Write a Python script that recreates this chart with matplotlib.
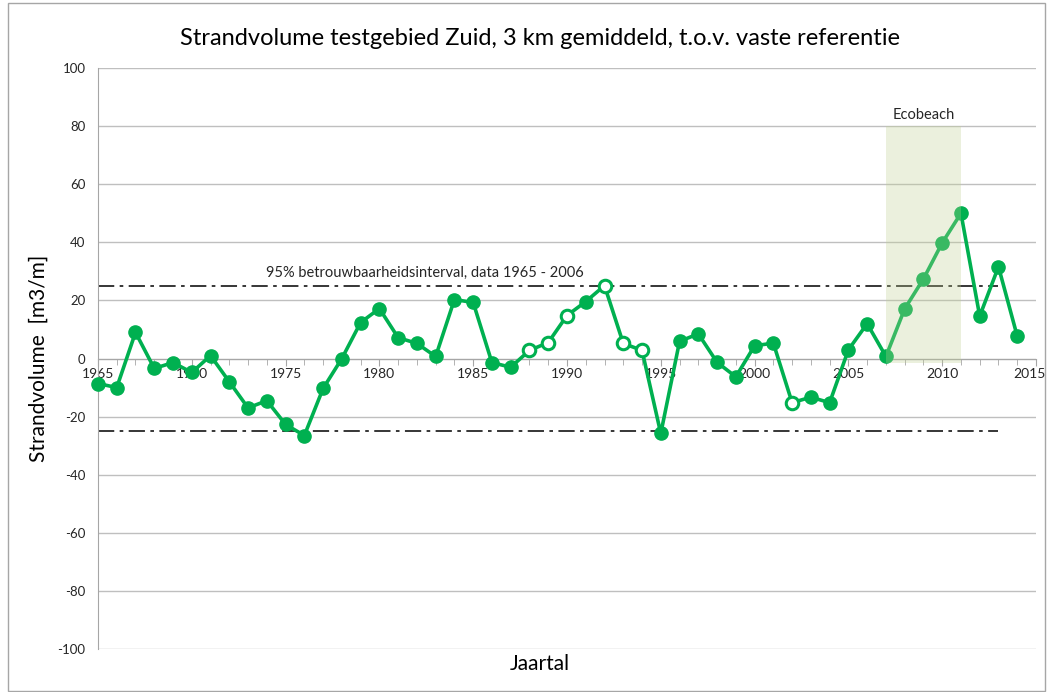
import matplotlib
matplotlib.use("Agg")
import matplotlib.pyplot as plt
import matplotlib.transforms as mtrans
from matplotlib.patches import Rectangle

plt.rcParams['font.family'] = ['Lato', 'DejaVu Sans']
plt.rcParams['axes.unicode_minus'] = False

years = list(range(1965, 2015))
volume = [-8.6, -10.0, 9.0, -3.4, -1.4, -4.8, 1.0, -8.0, -17.0, -14.5,
          -22.7, -26.5, -10.3, 0.0, 12.4, 17.2, 7.2, 5.2, 0.7, 20.3,
          19.3, -1.4, -3.0, 2.8, 5.5, 14.8, 19.6, 25.1, 5.2, 2.8,
          -25.8, 5.9, 8.5, -1.3, -6.3, 4.4, 5.3, -15.2, -13.3, -15.2,
          3.0, 12.0, 0.7, 17.1, 27.4, 39.8, 50.0, 14.6, 31.6, 7.7]
open_years = [1988, 1989, 1990, 1992, 1993, 1994, 2002]
ci_upper = 25
ci_lower = -25
ci_start, ci_end = 1965, 2013
eco_start, eco_end = 2007, 2011
eco_top = 80

green = '#00B050'

fig = plt.figure(figsize=(10.49, 6.92), dpi=100)
ax = fig.add_axes([0.0934, 0.0621, 0.8942, 0.8396])
ax.set_xlim(1965, 2015)
ax.set_ylim(-100, 100)

for v in range(-100, 101, 20):
    ax.axhline(v, color='#BFBFBF', lw=1.0, zorder=0)

ax.plot(years, volume, color=green, lw=2.6, zorder=3, clip_on=False)
filled_x = [y for y in years if y not in open_years]
filled_y = [v for y, v in zip(years, volume) if y not in open_years]
open_x = [y for y in years if y in open_years]
open_y = [v for y, v in zip(years, volume) if y in open_years]
ax.plot(filled_x, filled_y, 'o', color=green, ms=9.5, zorder=4, clip_on=False)
ax.plot(open_x, open_y, 'o', mfc='white', mec=green, mew=2.2, ms=9.0, zorder=4, clip_on=False)

for lvl in (ci_upper, ci_lower):
    ax.plot([ci_start, ci_end], [lvl, lvl], color='#262626', lw=1.3,
            dashes=(9, 3, 2, 3), zorder=2)

ax.add_patch(Rectangle((eco_start, -1.5), eco_end - eco_start, eco_top + 1.5,
                       facecolor='#BFD091', alpha=0.3, edgecolor='none', zorder=5))
ax.text((eco_start + eco_end) / 2, eco_top + 1.5, 'Ecobeach', ha='center', va='bottom',
        fontsize=10.5, color='#262626')
ax.text(1982.4, ci_upper + 2.0, '95% betrouwbaarheidsinterval, data 1965 - 2006',
        ha='center', va='bottom', fontsize=10.5, color='#262626')

for s in ('top', 'right'):
    ax.spines[s].set_visible(False)
ax.spines['left'].set_color('#A6A6A6')
ax.spines['bottom'].set_position(('data', 0))
ax.spines['bottom'].set_color('#A6A6A6')

ax.set_xticks(range(1965, 2016, 5))
ax.set_xticks(range(1965, 2016), minor=True)
ax.set_yticks(range(-100, 101, 20))
ax.tick_params(axis='x', which='both', direction='out', color='#A6A6A6', labelsize=10,
               labelcolor='#262626', pad=2)
ax.tick_params(axis='x', which='major', length=5)
ax.tick_params(axis='x', which='minor', length=4)
ax.tick_params(axis='y', length=0, labelsize=9.5, labelcolor='#262626', pad=9)

# keep last x label inside the figure
fig.canvas.draw()
last = ax.get_xticklabels()[-1]
last.set_transform(last.get_transform() + mtrans.ScaledTranslation(-5 / 72, 0, fig.dpi_scale_trans))

ax.set_ylabel('Strandvolume  [m3/m]', fontsize=15, color='#000000', labelpad=6)
fig.text(0.515, 0.040, 'Jaartal', ha='center', va='center', fontsize=15)
fig.text(0.515, 0.945, 'Strandvolume testgebied Zuid, 3 km gemiddeld, t.o.v. vaste referentie',
         ha='center', va='center', fontsize=17)

fig.patches.append(Rectangle((0.0076, 0.002), 0.989, 0.994, transform=fig.transFigure,
                             fill=False, edgecolor='#A6A6A6', lw=1.0))

fig.savefig('out.png', dpi=100)
